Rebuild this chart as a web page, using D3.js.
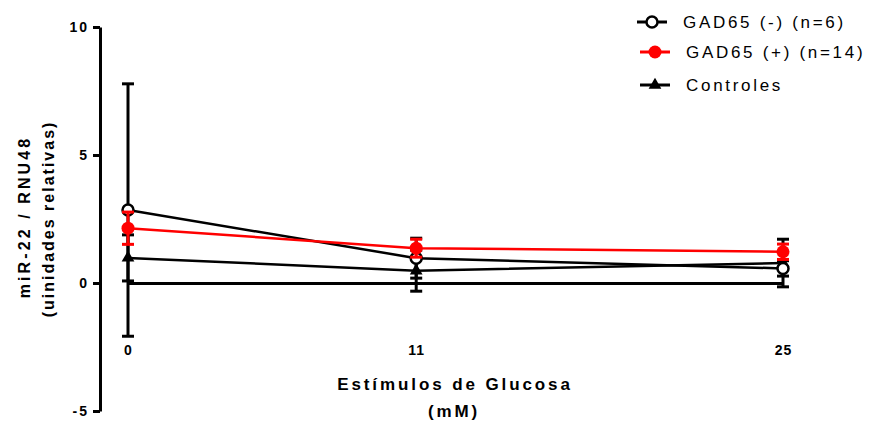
<!DOCTYPE html>
<html>
<head>
<meta charset="utf-8">
<script src="https://cdn.jsdelivr.net/npm/d3@7"></script>
<style>
  html, body { margin: 0; padding: 0; background: #fff; }
  svg { display: block; font-family: "Liberation Sans", Arial, sans-serif; }
</style>
</head>
<body>
<svg id="chart" width="870" height="422"></svg>
<script>
// Glucose stimulus concentrations (mM)
const doses = [0, 11, 25];
const xTickLabels = ["0", "11", "25"];
const yTickValues = [-5, 0, 5, 10];
const yTickLabels = ["-5", "0", "5", "10"];

// miR-22 / RNU48 relative units, mean and error per group
const gadNegMean = [2.85, 0.97, 0.57];
const gadNegErr  = [4.93, 0.78, 0.30];
const gadPosMean = [2.14, 1.36, 1.22];
const gadPosErr  = [0.63, 0.35, 0.30];
const ctrlMean   = [0.98, 0.48, 0.78];
const ctrlErr    = [0.90, 0.80, 0.93];

const seriesNames = ["GAD65 (-) (n=6)", "GAD65 (+) (n=14)", "Controles"];

const series = [
  { name: seriesNames[2], mean: ctrlMean, err: ctrlErr, color: "#000", marker: "triangle" },
  { name: seriesNames[0], mean: gadNegMean, err: gadNegErr, color: "#000", marker: "open" },
  { name: seriesNames[1], mean: gadPosMean, err: gadPosErr, color: "#ff0000", marker: "dot" }
];

const svg = d3.select("#chart");

const x = d3.scaleLinear().domain([0, 25]).range([128, 783]);
const y = d3.scaleLinear().domain([-5, 10]).range([411, 27]);
const yAxisX = 100;

// Y axis
const yAxis = svg.append("g")
  .attr("transform", `translate(${yAxisX},0)`)
  .call(d3.axisLeft(y).tickValues(yTickValues)
    .tickFormat((d, i) => yTickLabels[i])
    .tickSize(7).tickSizeOuter(0).tickPadding(4));
yAxis.select(".domain").attr("stroke", "#000").attr("stroke-width", 3);
yAxis.selectAll(".tick line").attr("stroke", "#000").attr("stroke-width", 3);
yAxis.selectAll(".tick text")
  .attr("fill", "#000")
  .style("font-size", "14px")
  .style("font-weight", "bold")
  .style("letter-spacing", "2px");

// X axis along y = 0
const xAxis = svg.append("g")
  .attr("transform", `translate(0,${y(0)})`)
  .call(d3.axisBottom(x).tickValues(doses).tickFormat((d, i) => xTickLabels[i]).tickSize(0).tickSizeOuter(0));
xAxis.select(".domain").attr("stroke", "#000").attr("stroke-width", 3);
xAxis.selectAll(".tick text")
  .attr("fill", "#000")
  .attr("y", 72)
  .attr("dy", 0)
  .style("font-size", "14px")
  .style("font-weight", "bold")
  .style("letter-spacing", "1px");

// Axis titles
svg.append("text")
  .attr("transform", "translate(30,217) rotate(-90)")
  .attr("text-anchor", "middle")
  .style("font-size", "16px").style("font-weight", "bold").style("letter-spacing", "3.1px")
  .text("miR-22 / RNU48");
svg.append("text")
  .attr("transform", "translate(54,219) rotate(-90)")
  .attr("text-anchor", "middle")
  .style("font-size", "16px").style("font-weight", "bold").style("letter-spacing", "2px")
  .text("(uinidades relativas)");
svg.append("text")
  .attr("x", 455).attr("y", 390)
  .attr("text-anchor", "middle")
  .style("font-size", "17px").style("font-weight", "bold").style("letter-spacing", "2.9px")
  .text("Estímulos de Glucosa");
svg.append("text")
  .attr("x", 454).attr("y", 417)
  .attr("text-anchor", "middle")
  .style("font-size", "17px").style("font-weight", "bold").style("letter-spacing", "2.9px")
  .text("(mM)");

const line = d3.line().x(d => x(d.dose)).y(d => y(d.v));
const capHalf = 6;

function drawMarker(g, kind, color, cx, cy) {
  if (kind === "open") {
    g.append("circle").attr("cx", cx).attr("cy", cy).attr("r", 5.5)
      .attr("fill", "#fff").attr("stroke", color).attr("stroke-width", 2.5);
  } else if (kind === "dot") {
    g.append("circle").attr("cx", cx).attr("cy", cy).attr("r", 6.5).attr("fill", color);
  } else {
    g.append("path").attr("d", d3.symbol(d3.symbolTriangle, 70)())
      .attr("transform", `translate(${cx},${cy})`).attr("fill", color);
  }
}

series.forEach(s => {
  const pts = doses.map((d, i) => ({ dose: d, v: s.mean[i], e: s.err[i] }));
  const g = svg.append("g");
  // error bars
  pts.forEach(p => {
    const cx = x(p.dose), top = y(p.v + p.e), bot = y(p.v - p.e);
    g.append("line").attr("x1", cx).attr("x2", cx).attr("y1", top).attr("y2", bot)
      .attr("stroke", s.color).attr("stroke-width", 3);
    [top, bot].forEach(cy => g.append("line")
      .attr("x1", cx - capHalf).attr("x2", cx + capHalf).attr("y1", cy).attr("y2", cy)
      .attr("stroke", s.color).attr("stroke-width", 3));
  });
  // connecting line
  g.append("path").datum(pts).attr("d", line)
    .attr("fill", "none").attr("stroke", s.color).attr("stroke-width", 2.5);
  pts.forEach(p => drawMarker(g, s.marker, s.color, x(p.dose), y(p.v)));
});

// Legend
const legendRows = [
  { name: seriesNames[0], color: "#000", marker: "open", y: 22, x0: 637 },
  { name: seriesNames[1], color: "#ff0000", marker: "dot", y: 52, x0: 640 },
  { name: seriesNames[2], color: "#000", marker: "triangle", y: 85, x0: 640 }
];
const lg = svg.append("g");
legendRows.forEach(r => {
  lg.append("line").attr("x1", r.x0).attr("x2", r.x0 + 30).attr("y1", r.y).attr("y2", r.y)
    .attr("stroke", r.color).attr("stroke-width", 3);
  drawMarker(lg, r.marker, r.color, r.x0 + 15, r.y);
  lg.append("text").attr("x", r.x0 + 46).attr("y", r.y).attr("dy", "0.35em")
    .style("font-size", "17px").style("letter-spacing", "2.7px")
    .text(r.name);
});
</script>
</body>
</html>
